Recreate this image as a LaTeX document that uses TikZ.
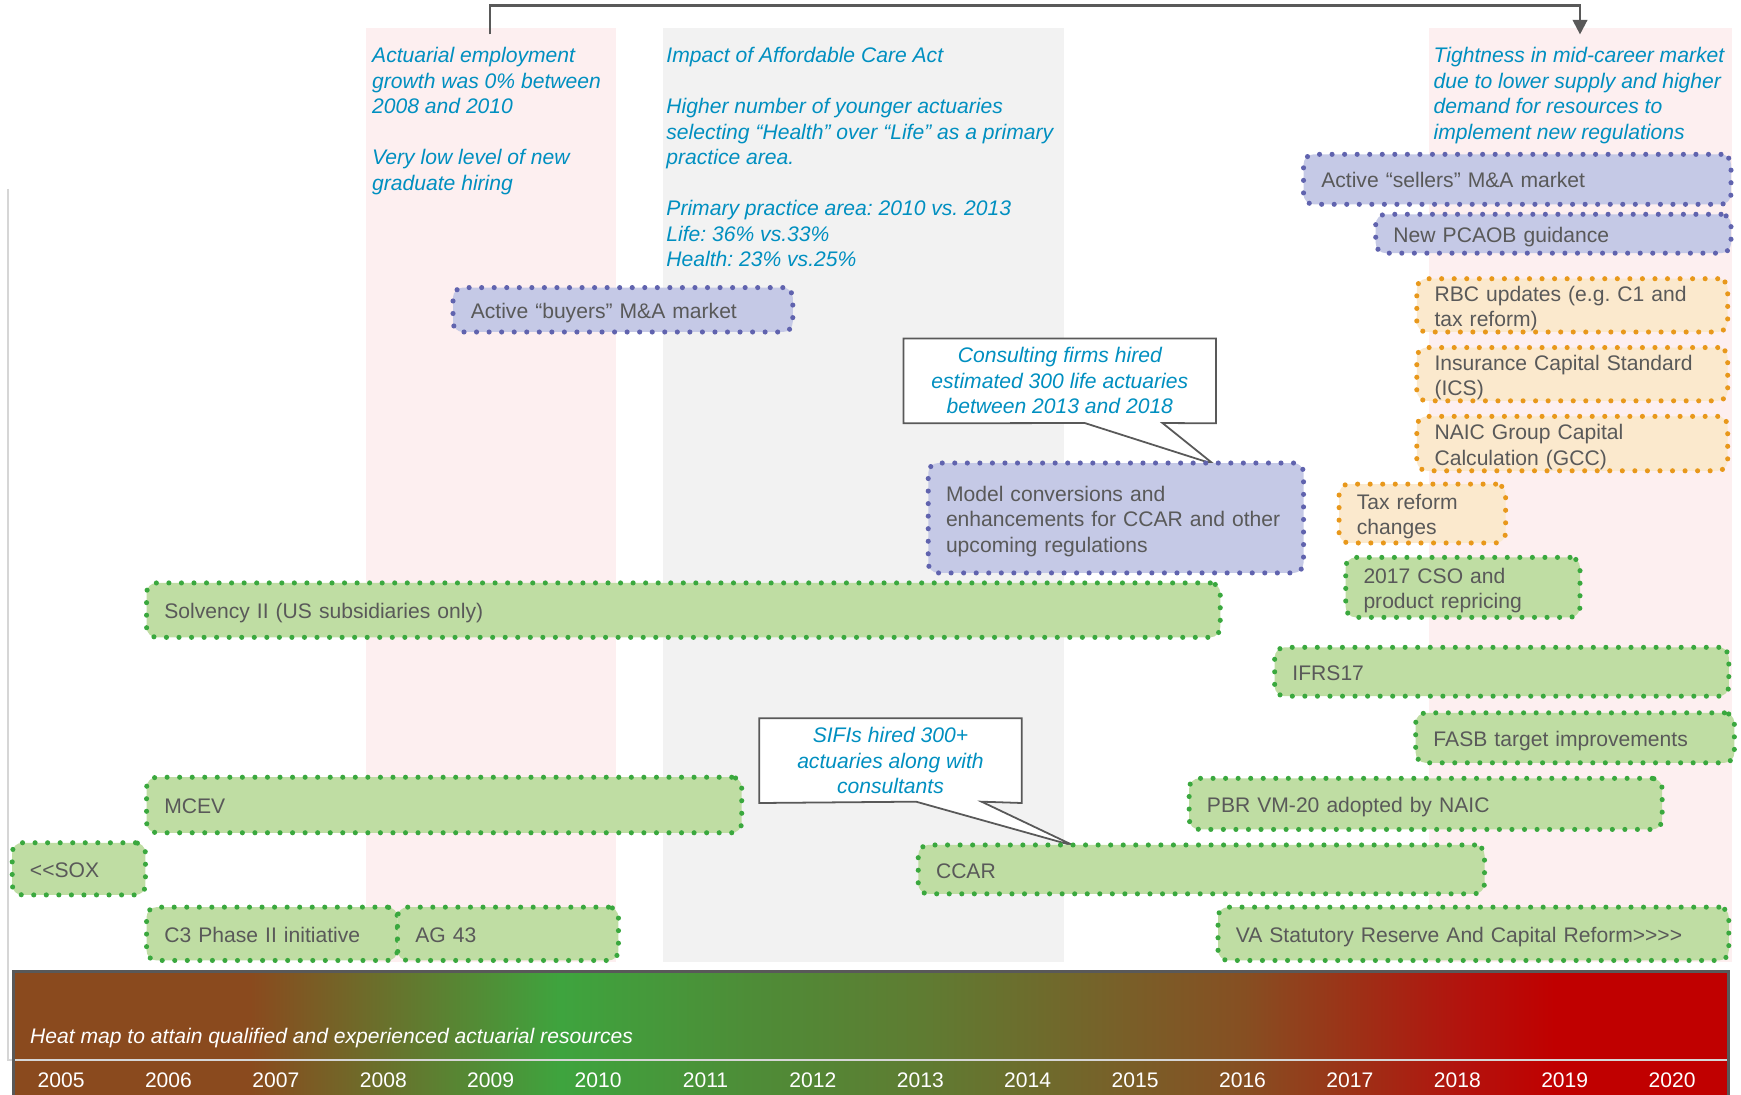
\documentclass[tikz,border=0pt]{standalone}
\usepackage{fontspec}
\setmainfont{Liberation Sans}
\frenchspacing
\usetikzlibrary{arrows.meta}
\definecolor{notecol}{RGB}{0,143,192}
\definecolor{boxtext}{RGB}{89,89,89}
\definecolor{bluefill}{RGB}{197,201,230}
\definecolor{bluedot}{RGB}{96,99,174}
\definecolor{greenfill}{RGB}{191,221,163}
\definecolor{greendot}{RGB}{58,168,62}
\definecolor{orangefill}{RGB}{251,233,205}
\definecolor{orangedot}{RGB}{232,152,27}
\definecolor{pinkband}{RGB}{253,239,240}
\definecolor{grayband}{RGB}{242,242,242}
\definecolor{linegray}{RGB}{89,89,89}
\definecolor{framegray}{RGB}{214,214,214}
\definecolor{hA}{HTML}{8A4A1E}
\definecolor{hB}{HTML}{3EA43E}
\definecolor{hC}{HTML}{4E8C37}
\definecolor{hD}{HTML}{5F7C32}
\definecolor{hE}{HTML}{7A5E28}
\definecolor{hF}{HTML}{864F22}
\definecolor{hG}{HTML}{9C3217}
\definecolor{hH}{HTML}{B2140E}
\definecolor{hI}{HTML}{C00000}
\newcommand\boxtopstrut{\rule{0pt}{20.1pt}}
\newcommand\boxbotstrut{\rule[-4.5pt]{0pt}{4.5pt}}
\pgfdeclarelayer{bands}
\pgfdeclarelayer{callouts}
\pgfsetlayers{bands,callouts,main}
\tikzset{
  bx/.style={font=\fontsize{19}{23}\selectfont, rounded corners=9pt, line width=4.6pt,
    dash pattern=on 0pt off 11.3pt, line cap=round, anchor=north west,
    inner xsep=16pt, inner ysep=0pt, outer sep=0pt, align=left, text=boxtext,
    execute at begin node=\boxtopstrut, execute at end node=\boxbotstrut},
  bbox/.style={bx, draw=bluedot, fill=bluefill},
  gbox/.style={bx, draw=greendot, fill=greenfill},
  obox/.style={bx, draw=orangedot, fill=orangefill},
  note/.style={font=\fontsize{19}{23}\selectfont\itshape, text=notecol,
    anchor=north west, inner sep=0pt, align=left},
  calltext/.style={font=\fontsize{19}{23}\selectfont\itshape, text=notecol,
    align=center, inner sep=0pt},
  callshape/.style={fill=white, draw=linegray, line width=1.6pt, line join=miter},
  yearlbl/.style={font=\fontsize{19}{23}\selectfont, text=white, anchor=base, inner sep=0pt},
  connector/.style={draw=linegray, line width=2pt, -{Triangle[length=13pt,width=13pt]}},
}
\begin{document}
\begin{tikzpicture}[x=1pt,y=-1pt]
\useasboundingbox (0,0) rectangle (1568,986);

% background bands
\begin{pgfonlayer}{bands}
  \fill[pinkband] (330,25) rectangle (555,866);
  \fill[grayband] (597,25) rectangle (958,866);
  \fill[pinkband] (1287,25) rectangle (1560,866);
\end{pgfonlayer}

% top connector
\coordinate (arrS) at (441,31);
\coordinate (arrTop) at (1423,5);
\coordinate (arrE) at (1423,31);
\draw[connector] (arrS) |- (arrTop) -- (arrE);

% notes
\node[note] (noteA) at (335,40) {\strut Actuarial employment\\growth was 0\% between\\2008 and 2010\\[23pt]Very low level of new\\graduate hiring};
\node[note] (noteB) at (600,40) {\strut Impact of Affordable Care Act\\[23pt]Higher number of younger actuaries\\selecting “Health” over “Life” as a primary\\practice area.\\[23pt]Primary practice area: 2010 vs. 2013\\Life: 36\% vs.33\%\\Health: 23\% vs.25\%};
\node[note] (noteC) at (1291,40) {\strut Tightness in mid-career market\\due to lower supply and higher\\demand for resources to\\implement new regulations};

% boxes
\node[bbox, minimum height=40pt, text width=274pt] (buyers) at (408,259) {Active “buyers” M\&A market};
\node[bbox, minimum height=45pt, text width=353pt] (sellers) at (1174,139) {Active “sellers” M\&A market};
\node[bbox, minimum height=35pt, text width=288pt] (pcaob) at (1239,193) {New PCAOB guidance};
\node[obox, minimum height=48pt, text width=248pt] (rbc) at (1276,251) {\mbox{RBC updates (e.g. C1 and}\\tax reform)};
\node[obox, minimum height=48pt, text width=248pt] (ics) at (1276,313) {\mbox{Insurance Capital Standard}\\(ICS)};
\node[obox, minimum height=49pt, text width=248pt] (naic) at (1276,375) {NAIC Group Capital\\Calculation (GCC)};
\node[obox, minimum height=53pt, text width=118pt] (tax) at (1206,436) {\mbox{Tax reform}\\changes};
\node[gbox, minimum height=54pt, text width=179pt] (cso) at (1212,502) {\mbox{2017 CSO and}\\\mbox{product repricing}};
\node[bbox, minimum height=99pt, text width=306pt] (model) at (836,417) {\mbox{Model conversions and}\\\mbox{enhancements for CCAR and other}\\\mbox{upcoming regulations}};
\node[gbox, minimum height=49pt, text width=935pt] (solv) at (132,525) {Solvency II (US subsidiaries only)};
\node[gbox, minimum height=44pt, text width=377pt] (ifrs) at (1148,583) {IFRS17};
\node[gbox, minimum height=45pt, text width=255pt] (fasb) at (1275,642) {FASB target improvements};
\node[gbox, minimum height=46pt, text width=394pt] (pbr) at (1071,701) {PBR VM-20 adopted by NAIC};
\node[gbox, minimum height=50pt, text width=504pt] (mcev) at (132,700) {MCEV};
\node[gbox, minimum height=47pt, text width=88pt] (sox) at (11,759) {\mbox{<{}<SOX}};
\node[gbox, minimum height=44pt, text width=478pt] (ccar) at (827,761) {CCAR};
\node[gbox, minimum height=48pt, text width=194pt] (c3) at (132,817) {\mbox{C3 Phase II initiative}};
\node[gbox, minimum height=48pt, text width=167pt] (ag43) at (358,817) {AG 43};
\node[gbox, minimum height=48pt, text width=428pt] (va) at (1097,817) {\mbox{VA Statutory Reserve And Capital Reform>{}>{}>{}>}};

% callouts
\node[calltext, minimum width=281pt, minimum height=76pt] (callA) at (954.5,343) {Consulting firms hired\\estimated 300 life actuaries\\between 2013 and 2018};
\coordinate (aL) at (977,381);
\coordinate (aR) at (1047,381);
\coordinate (tipA) at (1093,418);
\node[calltext, minimum width=236pt, minimum height=76pt] (callB) at (802,685) {SIFIs hired 300+\\actuaries along with\\consultants};
\coordinate (bL) at (825,722);
\coordinate (bR) at (884,722);
\coordinate (tipB) at (968,762);
\begin{pgfonlayer}{callouts}
  \path[callshape] (callA.north west) -- (callA.north east) -- (callA.south east) -- (aR) -- (tipA) -- (aL) -- (callA.south west) -- cycle;
  \path[callshape] (callB.north west) -- (callB.north east) -- (callB.south east) -- (bR) -- (tipB) -- (bL) -- (callB.south west) -- cycle;
\end{pgfonlayer}

% heat map
\foreach \xa/\ca/\xb/\cb in {12/hA/225/hA, 225/hA/505/hB, 505/hB/680/hC, 680/hC/830/hD, 830/hD/1020/hE, 1020/hE/1120/hF, 1120/hF/1216/hG, 1216/hG/1313/hH, 1313/hH/1400/hI, 1400/hI/1557/hI}
  \shade[left color=\ca, right color=\cb] (\xa,875) rectangle ({\xb+0.6},986);
\draw[framegray, line width=1.6pt] (7,170) -- (7,955) -- (1557,955);
\draw[linegray, line width=2.6pt] (12,986) -- (12,875) -- (1557,875) -- (1557,986);
\node[font=\fontsize{19}{23}\selectfont\itshape, text=white, anchor=base west, inner sep=0pt] (heattext) at (27,940) {Heat map to attain qualified and experienced actuarial resources};
\foreach \yr [count=\i from 0] in {2005,2006,2007,2008,2009,2010,2011,2012,2013,2014,2015,2016,2017,2018,2019,2020}
  \node[yearlbl] (y\yr) at ({55+96.73*\i},979) {\yr};
\end{tikzpicture}
\end{document}
